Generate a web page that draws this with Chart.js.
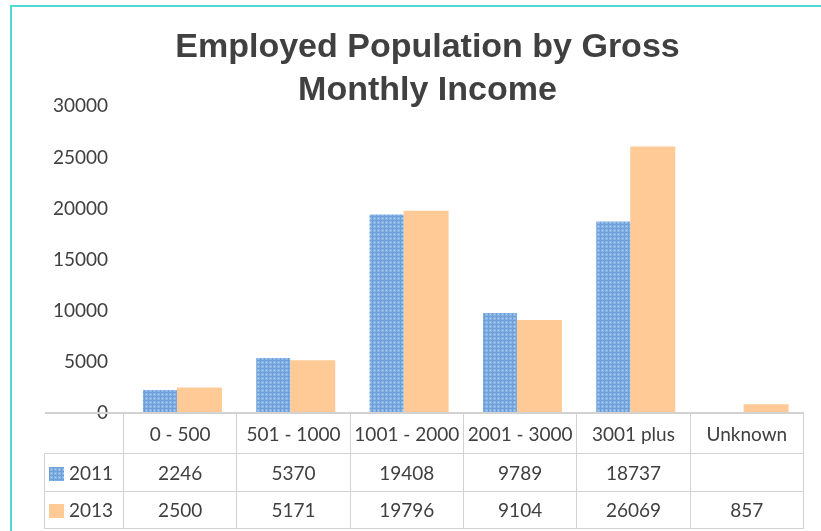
<!DOCTYPE html>
<html>
<head>
<meta charset="utf-8">
<script src="https://cdn.jsdelivr.net/npm/chart.js@4/dist/chart.umd.min.js"></script>
<style>
    body { margin: 0; background: #fff; }
    #wrap { position: relative; width: 821px; height: 531px; overflow: hidden; }
    #frame {
        position: absolute; left: 10px; top: 5px; width: 820px; height: 540px;
        border-top: 2px solid #4fd9d5; border-left: 2px solid #4fd9d5;
    }
    #chart { position: absolute; left: 0; top: 0; }
    #table {
        position: absolute; border-collapse: collapse; table-layout: fixed;
        font-family: Lato, "Open Sans", sans-serif; font-size: 19px; color: #404040;
    }
    #table td { border: 1px solid #d2d2d2; text-align: center; padding: 0; white-space: nowrap; }
    #table tr:first-child td { border-top: 2px solid #d2d2d2; }
    #table td.blank { border: none; }
    #table td.key { text-align: left; padding-left: 4px; }
    .swatch { display: inline-block; width: 15px; height: 14px; margin-right: 5px; vertical-align: -1px; }
</style>
</head>
<body>
<div id="wrap">
    <div id="frame"></div>
    <canvas id="chart" width="821" height="531"></canvas>
</div>
<script>
const titleLines = ['Employed Population by Gross', 'Monthly Income'];
const categories = ['0 - 500', '501 - 1000', '1001 - 2000', '2001 - 3000', '3001 plus', 'Unknown'];
const seriesNames = ['2011', '2013'];
const values2011 = [2246, 5370, 19408, 9789, 18737, null];
const values2013 = [2500, 5171, 19796, 9104, 26069, 857];
const yTicks = [0, 5000, 10000, 15000, 20000, 25000, 30000];

// small plaid tile for the 2011 bars
function makeTile() {
    const c = document.createElement('canvas');
    c.width = 4; c.height = 4;
    const g = c.getContext('2d');
    g.fillStyle = '#88b4e5'; g.fillRect(0, 0, 4, 4);
    g.fillStyle = '#6d9fd9'; g.fillRect(0, 0, 4, 1); g.fillRect(0, 0, 1, 4);
    g.fillStyle = '#b3d1f2'; g.fillRect(2, 2, 1, 1);
    return c;
}
const tile = makeTile();
const ctx = document.getElementById('chart').getContext('2d');
const blueFill = ctx.createPattern(tile, 'repeat');
const orangeFill = '#ffca95';

const chart = new Chart(ctx, {
    type: 'bar',
    data: {
        labels: categories,
        datasets: [
            { label: seriesNames[0], data: values2011, backgroundColor: blueFill, barPercentage: 0.86, categoryPercentage: 0.697 },
            { label: seriesNames[1], data: values2013, backgroundColor: orangeFill, barPercentage: 1.14, categoryPercentage: 0.697 }
        ]
    },
    options: {
        responsive: false,
        animation: false,
        layout: { padding: { left: 52, right: 18, top: 0, bottom: 118 } },
        plugins: {
            legend: { display: false },
            tooltip: { enabled: false },
            title: {
                display: true,
                text: titleLines,
                color: '#404040',
                font: { family: '"Liberation Sans", Arial, sans-serif', size: 34, weight: 'bold', lineHeight: 1.24 },
                padding: { top: 27, bottom: -5 }
            }
        },
        scales: {
            x: { display: false },
            y: {
                min: 0,
                max: 30000,
                afterFit: s => { s.width = 71; },
                afterBuildTicks: s => { s.ticks = yTicks.map(v => ({ value: v })); },
                grid: { display: false, drawTicks: false },
                border: { display: false },
                ticks: {
                    padding: 15,
                    color: '#404040',
                    callback: v => String(v),
                    font: { family: 'Lato, "Open Sans", sans-serif', size: 19 }
                }
            }
        }
    }
});

// data table under the plot, columns lined up with the category bands
function buildTable() {
    const area = chart.chartArea;
    const colW = (area.right - area.left) / categories.length;
    const keyW = 79;
    const table = document.createElement('table');
    table.id = 'table';
    table.style.left = (area.left - keyW) + 'px';
    table.style.top = (area.bottom - 1) + 'px';
    table.style.width = (keyW + colW * categories.length) + 'px';

    const cols = document.createElement('colgroup');
    [keyW].concat(categories.map(() => colW)).forEach(w => {
        const col = document.createElement('col');
        col.style.width = w + 'px';
        cols.appendChild(col);
    });
    table.appendChild(cols);

    const head = table.insertRow();
    head.style.height = '40px';
    head.insertCell().className = 'blank';
    categories.forEach(c => { head.insertCell().textContent = c; });

    const rows = [
        { name: seriesNames[0], data: values2011, swatch: 'url(' + tile.toDataURL() + ')', h: 38 },
        { name: seriesNames[1], data: values2013, swatch: orangeFill, h: 37 }
    ];
    rows.forEach(r => {
        const tr = table.insertRow();
        tr.style.height = r.h + 'px';
        const key = tr.insertCell();
        key.className = 'key';
        const sw = document.createElement('span');
        sw.className = 'swatch';
        sw.style.background = r.swatch;
        key.appendChild(sw);
        key.appendChild(document.createTextNode(r.name));
        r.data.forEach(v => { tr.insertCell().textContent = v === null ? '' : v; });
    });
    document.getElementById('wrap').appendChild(table);
}
buildTable();
</script>
</body>
</html>
